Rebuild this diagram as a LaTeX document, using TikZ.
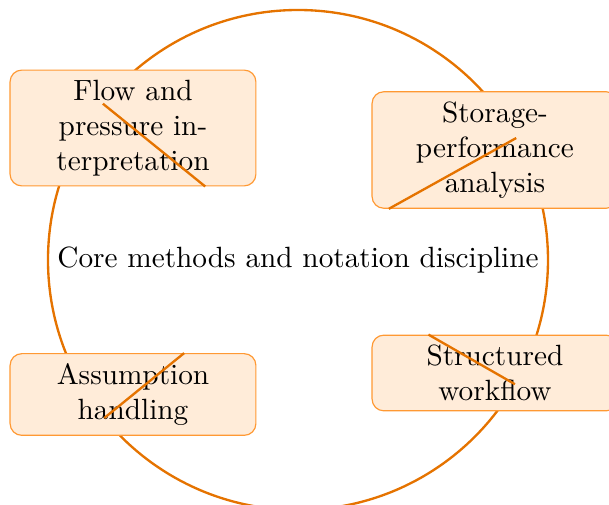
\documentclass[tikz,border=0pt]{standalone}
\usetikzlibrary{positioning}
\usetikzlibrary{calc}

\begin{document}
\begin{tikzpicture}[
    box/.style = { draw=orange!80, fill=orange!15, rounded corners, minimum width=2.95cm, text width=2cm, align=center },
    ring/.style = { draw=orange!90!black, thick },
    ]
    \useasboundingbox (-3.576,-2.94) rectangle (3.732,3.12);

    \node (core) at (0,0) {Core methods and notation discipline};
    \draw[ring] (core.center) circle (3cm);

    \coordinate (p1) at (141.3:3);
    \coordinate (p2) at (29.2:3);
    \coordinate (p3) at (219.2:3);
    \coordinate (p4) at (-29.8:3);

    \node[box] (flow) at (-1.98,1.584) {Flow and pressure interpretation};
    \node[box] (storage) at (2.364,1.32) {Storage-performance analysis};
    \node[box] (assume) at (-1.98,-1.614) {Assumption handling};
    \node[box] (workflow) at (2.364,-1.356) {Structured workflow};

    % stray spokes
    \draw[ring] (p1) -- (flow.321.3);
    \draw[ring] (p2) -- (storage.209.2);
    \draw[ring] (p3) -- (assume.39.2);
    \draw[ring] (p4) -- (workflow.150.2);
\end{tikzpicture}
\end{document}
